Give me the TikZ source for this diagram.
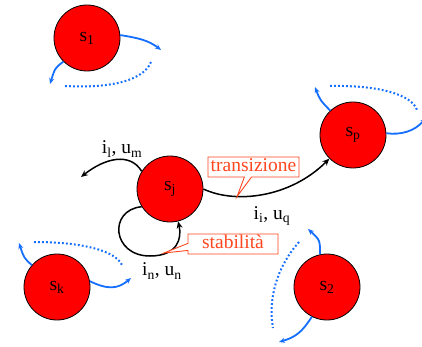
\documentclass[tikz,border=0pt]{standalone}
\usepackage{fontspec}
\setmainfont{Liberation Serif}
\usetikzlibrary{arrows.meta,shapes.callouts}
\definecolor{sred}{RGB}{255,0,0}
\definecolor{sblue}{RGB}{20,110,255}
\definecolor{corange}{RGB}{255,70,30}
\tikzset{
  state/.style={circle,draw=black,line width=0.8pt,fill=sred,minimum size=66pt,inner sep=0pt,font=\fontsize{19.5}{22}\selectfont},
  blarr/.style={draw=sblue,line width=1.8pt,-{Stealth[length=6pt,width=5pt]}},
  bldot/.style={draw=sblue,line width=2pt,dash pattern=on 1.8pt off 2.2pt},
  karr/.style={draw=black,line width=1.5pt,-{Stealth[length=7pt,width=6pt]}},
  lbl/.style={font=\fontsize{19.5}{22}\selectfont,inner sep=0pt},
  callbox/.style={rectangle callout,draw=corange,line width=0.9pt,fill=white,text=corange,
    font=\fontsize{19.5}{22}\selectfont,inner sep=1.5pt,minimum height=20pt,text height=13pt,text depth=3.5pt}
}
\begin{document}
\begin{tikzpicture}[x=1pt,y=-1pt]
\useasboundingbox (0,0) rectangle (422,347);
\clip (0,0) rectangle (422,347);
% states
\node[state] (s1) at (87,38) {s\textsubscript{1}};
\node[state] (sp) at (353,135) {s\textsubscript{p}};
\node[state] (sj) at (170,189) {s\textsubscript{j}};
\node[state] (sk) at (57,287) {s\textsubscript{k}};
\node[state] (s2) at (327,287) {s\textsubscript{2}};
% s1 arrows
\coordinate (s1a) at (161,50);
\coordinate (s1b) at (50,84);
\coordinate (s1c) at (151,62);
\coordinate (s1d) at (65,86);
\draw[blarr] (s1.5) .. controls (138,38) and (148,40) .. (s1a);
\draw[blarr] (s1.-135) .. controls (55,68) .. (s1b);
\draw[bldot] (s1c) .. controls (142,84) and (100,88) .. (s1d);
% sp arrows
\coordinate (spa) at (315,87);
\coordinate (spb) at (330,86);
\coordinate (spc) at (417,110);
\coordinate (spd) at (426,118);
\draw[blarr] (sp.133) .. controls (320,100) .. (spa);
\draw[bldot] (spb) .. controls (380,85) and (412,95) .. (spc);
\draw[blarr] (sp.3) .. controls (400,135) and (414,132) .. (spd);
% sk arrows
\coordinate (ska) at (19,243);
\coordinate (skb) at (34,242);
\coordinate (skc) at (122,265);
\coordinate (skd) at (131,278);
\draw[blarr] (sk.139) .. controls (24,258) .. (ska);
\draw[bldot] (skb) .. controls (80,242) and (115,250) .. (skc);
\draw[blarr] (sk.10) .. controls (108,290) and (118,289) .. (skd);
% s2 arrows
\coordinate (s2a) at (308,229);
\coordinate (s2b) at (299,242);
\coordinate (s2c) at (273,328);
\coordinate (s2d) at (279,342);
\draw[blarr] (s2.102) .. controls (320,240) .. (s2a);
\draw[bldot] (s2b) .. controls (276,268) and (268,300) .. (s2c);
\draw[blarr] (s2.-117) .. controls (302,332) and (296,337) .. (s2d);
% sj arrows
\coordinate (sja) at (81,177);
\draw[karr] (sj.148) .. controls (130,152) and (105,158) .. (sja);
\draw[karr] (sj.east) .. controls (235,204) and (290,198) .. (sp.-135) coordinate[pos=0.3] (tp1);
\draw[karr] (sj.-148) .. controls (108,210) and (112,256) .. (150,256) coordinate (lb)
  .. controls (178,256) and (182,238) .. (sj.-76);
\coordinate (tp2) at (164,253);
% labels
\node[lbl] (l1) at (122,149) {i\textsubscript{l}, u\textsubscript{m}};
\node[lbl] (l2) at (272,216) {i\textsubscript{i}, u\textsubscript{q}};
\node[lbl] (l3) at (162,271) {i\textsubscript{n}, u\textsubscript{n}};
% callouts
\node[callbox,minimum width=91pt,callout absolute pointer={(tp1)}] (trans) at (253.5,167) {transizione};
\node[callbox,minimum width=90pt,callout absolute pointer={(tp2)}] (stab) at (233,244) {stabilità};
\end{tikzpicture}
\end{document}
